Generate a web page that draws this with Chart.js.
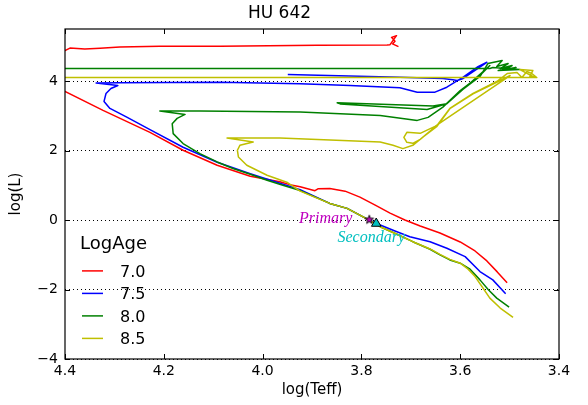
<!DOCTYPE html>
<html><head><meta charset="utf-8">
<script src="https://cdn.jsdelivr.net/npm/chart.js@4.4.0/dist/chart.umd.min.js"></script>
<style>html,body{margin:0;padding:0;background:#fff;}</style>
</head><body>
<canvas id="c" width="588" height="405"></canvas>
<script>
// ---------------- data ----------------
const chartTitle = "HU 642";
const ages = ["7.0", "7.5", "8.0", "8.5"];
const xTicks = [4.4, 4.2, 4.0, 3.8, 3.6, 3.4];
const yTicks = [-4, -2, 0, 2, 4];

const teff70 = [3.505,3.525,3.546,3.570,3.600,3.641,3.681,3.712,3.742,3.772,3.803,3.833,3.864,3.888,3.894,3.924,3.945,3.965,4.025,4.092,4.161,4.228,4.323,4.400,4.50,4.52,4.42,4.400,4.390,4.360,4.329,4.289,4.208,4.086,3.890,3.748,3.742,3.729,3.739,3.732,3.737,3.725];
const logL70 = [-1.808,-1.492,-1.176,-0.890,-0.631,-0.373,-0.172,0.000,0.201,0.430,0.660,0.832,0.910,0.898,0.846,0.961,1.019,1.105,1.263,1.578,2.009,2.525,3.156,3.702,4.05,4.60,4.83,4.878,4.950,4.921,4.944,4.984,5.002,5.007,5.030,5.042,5.050,5.308,5.260,5.145,5.070,4.993];

const teff75 = [3.508,3.534,3.560,3.590,3.627,3.661,3.702,3.732,3.762,3.787,3.829,3.864,3.924,3.965,4.025,4.092,4.161,4.228,4.274,4.309,4.321,4.317,4.307,4.293,4.337,4.289,4.086,3.924,3.823,3.722,3.687,3.651,3.627,3.594,3.566,3.546,3.594,3.606,3.615,3.635,3.722,3.949];
const logL75 = [-2.123,-1.722,-1.483,-1.053,-0.812,-0.623,-0.479,-0.316,-0.143,0.020,0.336,0.479,0.875,1.061,1.334,1.664,2.095,2.603,2.955,3.214,3.415,3.644,3.788,3.874,3.946,3.951,3.968,3.923,3.874,3.808,3.682,3.682,3.825,4.112,4.399,4.542,4.075,4.017,4.037,4.075,4.112,4.189];

const teff80 = [3.501,3.526,3.543,3.560,3.580,3.600,3.621,3.641,3.661,3.696,3.728,3.762,3.787,3.829,3.864,3.924,3.959,3.991,4.025,4.060,4.092,4.127,4.161,4.181,4.183,4.173,4.157,4.208,4.127,3.924,3.762,3.687,3.665,3.635,3.600,3.560,3.540,3.627,3.655,3.849,3.843,3.667,3.627,3.600,3.560,3.544,3.515,3.526,3.503,3.519,3.495,3.509,3.487,3.523,3.479,3.534,3.540,4.400,4.600];
const logL80 = [-2.505,-2.247,-2.009,-1.722,-1.415,-1.242,-1.148,-1.004,-0.841,-0.623,-0.410,-0.192,0.020,0.336,0.479,0.847,1.004,1.148,1.320,1.484,1.673,1.914,2.201,2.488,2.775,2.927,3.042,3.142,3.142,3.108,3.013,2.869,2.956,3.251,3.730,4.161,4.448,3.349,3.286,3.377,3.343,3.185,3.349,3.701,4.132,4.505,4.591,4.419,4.505,4.362,4.448,4.333,4.390,4.304,4.333,4.390,4.362,4.362,4.360];

const teff85 = [3.493,3.519,3.540,3.556,3.570,3.584,3.600,3.621,3.641,3.661,3.696,3.728,3.762,3.787,3.829,3.864,3.924,3.951,3.991,4.032,4.049,4.051,4.046,4.019,4.072,3.965,3.762,3.736,3.716,3.696,3.675,3.647,3.621,3.574,3.526,3.499,3.651,3.681,3.708,3.714,3.708,3.696,3.681,3.647,3.621,3.574,3.526,3.505,3.485,3.475,3.465,3.455,3.445,3.459,3.453,3.479,3.449,3.519,4.400,4.600];
const logL85 = [-2.803,-2.534,-2.247,-1.914,-1.627,-1.415,-1.242,-1.133,-0.990,-0.832,-0.623,-0.410,-0.192,0.020,0.336,0.479,0.832,1.090,1.291,1.578,1.816,2.009,2.152,2.247,2.362,2.362,2.247,2.152,2.057,2.152,2.390,2.697,3.205,3.636,3.968,4.161,2.697,2.496,2.525,2.382,2.238,2.209,2.324,2.726,3.214,3.644,3.989,4.218,4.247,4.103,4.276,4.218,4.103,4.132,4.304,4.333,4.103,4.103,4.103,4.100];

const starNames = ["Primary", "Secondary"];
const starTeff = [3.784, 3.770];
const starLogL = [0.02, -0.10];

// ---------------- styles ----------------
const lineColors = ["#ff0000", "#0000ff", "#008000", "#bfbf00"];
const FONT = "'DejaVu Sans', sans-serif";

const tracks = [[teff70, logL70], [teff75, logL75], [teff80, logL80], [teff85, logL85]];
const pts = (xs, ys) => xs.map((x, i) => ({x: x, y: ys[i]}));

function makeStar() {
  const c = document.createElement('canvas');
  c.width = 12; c.height = 12;
  const g = c.getContext('2d');
  g.beginPath();
  for (let i = 0; i < 10; i++) {
    const r = i % 2 ? 1.9 : 4.6;
    const a = -Math.PI / 2 + i * Math.PI / 5;
    const px = 6 + r * Math.cos(a), py = 6.4 + r * Math.sin(a);
    if (i) g.lineTo(px, py); else g.moveTo(px, py);
  }
  g.closePath();
  g.fillStyle = '#bf00bf'; g.fill();
  g.lineWidth = 0.9; g.strokeStyle = '#000'; g.stroke();
  return c;
}

const datasets = tracks.map((t, i) => ({
  label: ages[i],
  data: pts(t[0], t[1]),
  showLine: true,
  borderColor: lineColors[i],
  backgroundColor: lineColors[i],
  borderWidth: 1.5,
  borderJoinStyle: 'round',
  pointRadius: 0,
  tension: 0,
  order: 5 - i
}));
datasets.push({
  label: starNames[0], data: [{x: starTeff[0], y: starLogL[0]}], showLine: false,
  pointStyle: makeStar(), pointRadius: 5, order: 1
});
datasets.push({
  label: starNames[1], data: [{x: starTeff[1], y: starLogL[1]}], showLine: false,
  pointStyle: 'triangle', pointRadius: 5.5, backgroundColor: '#00bfbf',
  borderColor: '#000', borderWidth: 1, order: 0
});

const decor = {
  id: 'decor',
  afterDraw(chart) {
    const {ctx, chartArea: a, scales: {x, y}} = chart;
    ctx.save();
    // inward ticks on all four sides
    ctx.strokeStyle = '#000'; ctx.lineWidth = 1;
    ctx.beginPath();
    xTicks.forEach(v => {
      const p = Math.round(x.getPixelForValue(v)) + 0.5;
      ctx.moveTo(p, a.bottom); ctx.lineTo(p, a.bottom - 5);
      ctx.moveTo(p, a.top); ctx.lineTo(p, a.top + 5);
    });
    yTicks.forEach(v => {
      const p = Math.round(y.getPixelForValue(v)) + 0.5;
      ctx.moveTo(a.left, p); ctx.lineTo(a.left + 5, p);
      ctx.moveTo(a.right, p); ctx.lineTo(a.right - 5, p);
    });
    ctx.stroke();
    // frame
    ctx.lineWidth = 1.2;
    ctx.strokeRect(a.left, a.top, a.right - a.left, a.bottom - a.top);

    // legend (no frame)
    ctx.fillStyle = '#000';
    ctx.textBaseline = 'alphabetic';
    ctx.textAlign = 'left';
    ctx.font = "18px " + FONT;
    ctx.fillText('LogAge', a.left + 15, a.bottom - 110);
    ctx.font = "16px " + FONT;
    ages.forEach((lab, i) => {
      const base = a.bottom - 82.3 + i * 22.5;
      ctx.strokeStyle = lineColors[i]; ctx.lineWidth = 1.5;
      ctx.beginPath();
      ctx.moveTo(a.left + 17, base - 5.8); ctx.lineTo(a.left + 38, base - 5.8);
      ctx.stroke();
      ctx.fillStyle = '#000';
      ctx.fillText(lab, a.left + 55, base);
    });

    // star labels
    ctx.font = "italic 16px 'Liberation Serif', serif";
    const p0x = x.getPixelForValue(starTeff[0]), p0y = y.getPixelForValue(starLogL[0]);
    const p1x = x.getPixelForValue(starTeff[1]), p1y = y.getPixelForValue(starLogL[1]);
    ctx.fillStyle = '#bf00bf'; ctx.textAlign = 'right';
    ctx.fillText(starNames[0], p0x - 17, p0y + 4);
    ctx.fillStyle = '#00bfbf'; ctx.textAlign = 'left';
    ctx.fillText(starNames[1], p1x - 38.7, p1y + 18.2);
    ctx.restore();
  }
};

Chart.defaults.font.family = FONT;
Chart.defaults.color = '#000';

new Chart(document.getElementById('c'), {
  type: 'scatter',
  data: {datasets: datasets},
  options: {
    responsive: false,
    animation: false,
    devicePixelRatio: 1,
    layout: {padding: {top: 3, right: 29, bottom: 0, left: 0}},
    plugins: {
      legend: {display: false},
      tooltip: {enabled: false},
      title: {
        display: true, text: chartTitle, color: '#000',
        font: {size: 17, weight: 'normal', family: FONT},
        padding: {top: 0, bottom: 5.6}
      }
    },
    scales: {
      x: {
        type: 'linear', reverse: true, min: 3.4, max: 4.4,
        afterFit: s => { s.height = 46; },
        grid: {display: false, drawTicks: false},
        border: {display: false},
        ticks: {
          stepSize: 0.2, includeBounds: false, padding: 4, maxRotation: 0,
          font: {size: 14, family: FONT}, color: '#000',
          callback: v => Number(v).toFixed(1)
        },
        title: {display: true, text: 'log(Teff)', font: {size: 15, family: FONT}, color: '#000', padding: {top: 0, bottom: 6}}
      },
      y: {
        type: 'linear', min: -4, max: 5.5,
        afterFit: s => { s.width = 65; },
        grid: {display: true, drawTicks: false, color: '#000', lineWidth: 1},
        border: {display: false, dash: [1, 3]},
        ticks: {
          stepSize: 2, includeBounds: false, padding: 7,
          font: {size: 14, family: FONT}, color: '#000',
          callback: v => String(v).replace('-', '\u2212')
        },
        title: {display: true, text: 'log(L)', font: {size: 15, family: FONT}, color: '#000', padding: {top: 7, bottom: 0}}
      }
    }
  },
  plugins: [decor]
});
</script>
</body></html>
